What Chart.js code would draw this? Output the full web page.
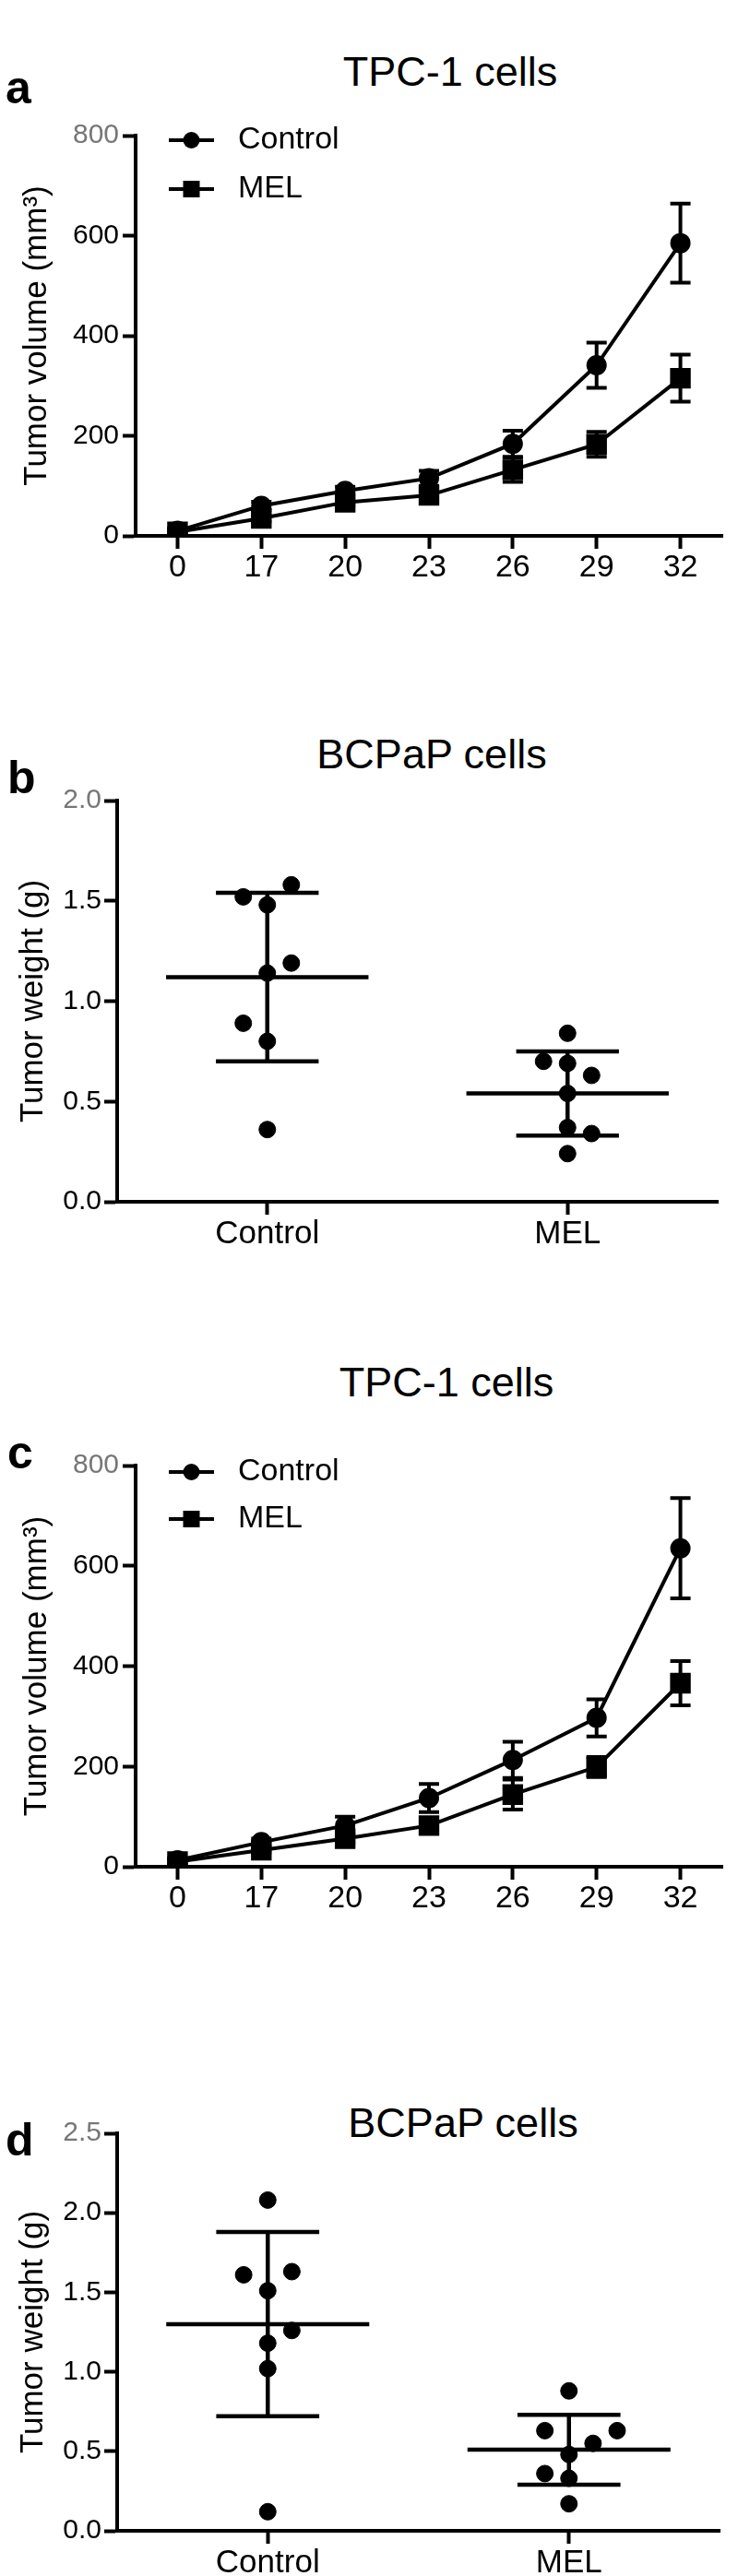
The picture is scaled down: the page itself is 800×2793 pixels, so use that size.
<!DOCTYPE html>
<html>
<head>
<meta charset="utf-8">
<script src="https://cdn.jsdelivr.net/npm/chart.js@4.4.0/dist/chart.umd.min.js"></script>
<style>
  body { margin: 0; background: #fff; }
  #page { position: relative; width: 800px; height: 2793px; overflow: hidden; font-family: 'Liberation Sans', Arial, Helvetica, sans-serif; color: #000; }
  .panel { position: absolute; left: 0; }
  .letter { position: absolute; font-weight: bold; font-size: 50px; line-height: 1; }
  .title { position: absolute; font-size: 45px; line-height: 1; white-space: nowrap; transform: translateX(-50%); }
</style>
</head>
<body>
<div id="page">
  <div class="letter" style="left:6px; top:70px;">a</div>
  <div class="title" style="left:488px; top:55px;">TPC-1 cells</div>
  <canvas class="panel" id="chartA" width="800" height="660" style="top:0px;"></canvas>

  <div class="letter" style="left:8px; top:818px;">b</div>
  <div class="title" style="left:468px; top:795px;">BCPaP cells</div>
  <canvas class="panel" id="chartB" width="800" height="720" style="top:660px;"></canvas>

  <div class="letter" style="left:8px; top:1550px;">c</div>
  <div class="title" style="left:484px; top:1476px;">TPC-1 cells</div>
  <canvas class="panel" id="chartC" width="800" height="660" style="top:1440px;"></canvas>

  <div class="letter" style="left:6px; top:2295px;">d</div>
  <div class="title" style="left:502px; top:2279px;">BCPaP cells</div>
  <canvas class="panel" id="chartD" width="800" height="673" style="top:2120px;"></canvas>
</div>

<script>
// --- data ---
const days = ['0', '17', '20', '23', '26', '29', '32'];
const volumeTicks = [0, 200, 400, 600, 800];

// panel a
const ctrlVolA = [10, 60, 90, 115, 184, 341, 585];
const ctrlErrA = [5, 8, 8, 15, 26, 45, 79];
const melVolA = [8, 35, 67, 81, 132, 183, 315];
const melErrA = [5, 6, 6, 12, 24, 25, 47];

// panel c
const ctrlVolC = [13, 49, 82, 137, 213, 297, 635];
const ctrlErrC = [5, 7, 18, 28, 36, 37, 100];
const melVolC = [10, 33, 56, 82, 144, 199, 366];
const melErrC = [5, 5, 8, 8, 30, 20, 44];

const groups = ['Control', 'MEL'];

// panel b
const ctrlWeightB = [1.58, 1.52, 1.48, 1.19, 1.14, 0.89, 0.80, 0.36];
const ctrlSlotB = [1, -1, 0, 1, 0, -1, 0, 0];
const melWeightB = [0.84, 0.70, 0.69, 0.63, 0.54, 0.37, 0.34, 0.24];
const melSlotB = [0, -1, 0, 1, 0, 0, 1, 0];
const meanB = [1.12, 0.54];
const sdB = [0.42, 0.21];
const weightTicksB = [0, 0.5, 1, 1.5, 2];

// panel d
const ctrlWeightD = [2.08, 1.63, 1.61, 1.51, 1.26, 1.18, 1.02, 0.12];
const ctrlSlotD = [0, 1, -1, 0, 1, 0, 0, 0];
const melWeightD = [0.88, 0.63, 0.63, 0.55, 0.48, 0.36, 0.33, 0.17];
const melSlotD = [0, -1, 2, 1, 0, -1, 0, 0];
const meanD = [1.30, 0.51];
const sdD = [0.58, 0.22];
const weightTicksD = [0, 0.5, 1, 1.5, 2, 2.5];

// --- styling ---
const FONT = "'Liberation Sans', Arial, Helvetica, sans-serif";
Chart.defaults.font.family = FONT;
Chart.defaults.color = '#000';

const JITTER = 0.08;

// draws mean +/- error bars on the line charts
const errorBarPlugin = {
    id: 'errorBars',
    afterDatasetsDraw(chart) {
        const ctx = chart.ctx;
        const yScale = chart.scales.y;
        chart.data.datasets.forEach((ds, i) => {
            if (!ds.errors) return;
            const meta = chart.getDatasetMeta(i);
            ctx.save();
            ctx.strokeStyle = '#000';
            ctx.lineWidth = 4;
            meta.data.forEach((pt, j) => {
                const top = yScale.getPixelForValue(ds.data[j] + ds.errors[j]);
                const bot = yScale.getPixelForValue(ds.data[j] - ds.errors[j]);
                ctx.beginPath();
                ctx.moveTo(pt.x, top); ctx.lineTo(pt.x, bot);
                ctx.moveTo(pt.x - 11, top); ctx.lineTo(pt.x + 11, top);
                ctx.moveTo(pt.x - 11, bot); ctx.lineTo(pt.x + 11, bot);
                ctx.stroke();
            });
            ctx.restore();
        });
    }
};

// legend sitting inside the plot area, top left
const insideLegendPlugin = {
    id: 'insideLegend',
    afterDraw(chart, args, opts) {
        if (!opts || !opts.rows) return;
        const ctx = chart.ctx;
        ctx.save();
        chart.data.datasets.forEach((ds, i) => {
            const y = opts.rows[i];
            const xm = (opts.x0 + opts.x1) / 2;
            ctx.strokeStyle = '#000';
            ctx.lineWidth = 4;
            ctx.beginPath();
            ctx.moveTo(opts.x0, y); ctx.lineTo(opts.x1, y);
            ctx.stroke();
            ctx.fillStyle = '#000';
            if (ds.pointStyle === 'rect') {
                ctx.fillRect(xm - 9, y - 9, 18, 18);
            } else {
                ctx.beginPath();
                ctx.arc(xm, y, 9, 0, Math.PI * 2);
                ctx.fill();
            }
            ctx.font = '34px ' + FONT;
            ctx.textBaseline = 'middle';
            ctx.textAlign = 'left';
            ctx.fillText(ds.label, opts.textX, y);
        });
        ctx.restore();
    }
};

// mean line with SD whiskers for the scatter panels
const meanSdPlugin = {
    id: 'meanSd',
    beforeDatasetsDraw(chart, args, opts) {
        if (!opts || !opts.mean) return;
        const ctx = chart.ctx;
        const xs = chart.scales.x, ys = chart.scales.y;
        ctx.save();
        ctx.strokeStyle = '#000';
        ctx.lineWidth = 4.5;
        opts.mean.forEach((m, i) => {
            const c = i + 1;
            const yMean = ys.getPixelForValue(m);
            const yTop = ys.getPixelForValue(m + opts.sd[i]);
            const yBot = ys.getPixelForValue(m - opts.sd[i]);
            const xc = xs.getPixelForValue(c);
            ctx.beginPath();
            ctx.moveTo(xs.getPixelForValue(c - 0.337), yMean);
            ctx.lineTo(xs.getPixelForValue(c + 0.337), yMean);
            ctx.moveTo(xc, yTop); ctx.lineTo(xc, yBot);
            ctx.moveTo(xs.getPixelForValue(c - 0.171), yTop);
            ctx.lineTo(xs.getPixelForValue(c + 0.171), yTop);
            ctx.moveTo(xs.getPixelForValue(c - 0.171), yBot);
            ctx.lineTo(xs.getPixelForValue(c + 0.171), yBot);
            ctx.stroke();
        });
        ctx.restore();
    }
};

function axisGrid() {
    return { drawOnChartArea: false, offset: false, drawTicks: true, tickLength: 14, tickWidth: 4, tickColor: '#000' };
}

function topGray(max) {
    return (c) => (c.tick && c.tick.value === max ? '#777' : '#000');
}

function volumeChart(id, ctrl, ctrlErr, mel, melErr, layout) {
    new Chart(document.getElementById(id), {
        type: 'line',
        data: {
            labels: days,
            datasets: [
                { label: 'Control', data: ctrl, errors: ctrlErr, pointStyle: 'circle', pointRadius: 9,
                  borderColor: '#000', backgroundColor: '#000', borderWidth: 4, tension: 0 },
                { label: 'MEL', data: mel, errors: melErr, pointStyle: 'rect', pointRadius: 13,
                  borderColor: '#000', backgroundColor: '#000', borderWidth: 4, tension: 0 }
            ]
        },
        options: {
            responsive: false,
            animation: false,
            layout: { padding: { top: layout.top, right: layout.right, bottom: 0, left: 0 } },
            plugins: {
                legend: { display: false },
                tooltip: { enabled: false },
                insideLegend: { x0: 183, x1: 232, textX: 258, rows: layout.legendRows }
            },
            scales: {
                x: {
                    type: 'category',
                    offset: true,
                    afterFit: (s) => { s.height = layout.xh; },
                    grid: axisGrid(),
                    border: { color: '#000', width: 4 },
                    ticks: { font: { size: 34 }, padding: 0, maxRotation: 0, color: '#000' }
                },
                y: {
                    min: 0, max: 800,
                    afterBuildTicks: (s) => { s.ticks = volumeTicks.map(v => ({ value: v })); },
                    afterFit: (s) => { s.width = layout.yw; },
                    grid: axisGrid(),
                    border: { color: '#000', width: 4 },
                    ticks: { font: { size: 30 }, padding: 4, color: topGray(800) },
                    title: { display: true, text: 'Tumor volume (mm³)', font: { size: 35 }, padding: { top: 19, bottom: 0 }, color: '#000' }
                }
            }
        },
        plugins: [errorBarPlugin, insideLegendPlugin]
    });
}

function weightChart(id, ctrl, ctrlSlot, mel, melSlot, mean, sd, ticks, layout) {
    const max = ticks[ticks.length - 1];
    new Chart(document.getElementById(id), {
        type: 'scatter',
        data: {
            datasets: [
                { label: 'Control', data: ctrl.map((v, i) => ({ x: 1 + ctrlSlot[i] * JITTER, y: v })),
                  pointRadius: 9, backgroundColor: '#000', borderColor: '#000' },
                { label: 'MEL', data: mel.map((v, i) => ({ x: 2 + melSlot[i] * JITTER, y: v })),
                  pointRadius: 9, backgroundColor: '#000', borderColor: '#000' }
            ]
        },
        options: {
            responsive: false,
            animation: false,
            layout: { padding: { top: layout.top, right: layout.right, bottom: 0, left: 0 } },
            plugins: {
                legend: { display: false },
                tooltip: { enabled: false },
                meanSd: { mean: mean, sd: sd }
            },
            scales: {
                x: {
                    type: 'linear',
                    min: 0.5, max: 2.5,
                    afterBuildTicks: (s) => { s.ticks = groups.map((g, i) => ({ value: i + 1 })); },
                    afterFit: (s) => { s.height = layout.xh; },
                    grid: axisGrid(),
                    border: { color: '#000', width: 4 },
                    ticks: { font: { size: 35 }, padding: 0, maxRotation: 0, color: '#000',
                             callback: (v, i) => groups[i] }
                },
                y: {
                    min: 0, max: max,
                    afterBuildTicks: (s) => { s.ticks = ticks.map(v => ({ value: v })); },
                    afterFit: (s) => { s.width = layout.yw; },
                    grid: axisGrid(),
                    border: { color: '#000', width: 4 },
                    ticks: { font: { size: 30 }, padding: 3, color: topGray(max), callback: (v) => Number(v).toFixed(1) },
                    title: { display: true, text: 'Tumor weight (g)', font: { size: 35 }, padding: { top: 15, bottom: 0 }, color: '#000' }
                }
            }
        },
        plugins: [meanSdPlugin]
    });
}

volumeChart('chartA', ctrlVolA, ctrlErrA, melVolA, melErrA,
    { top: 147, right: 0, xh: 79, yw: 147, legendRows: [152, 205] });
weightChart('chartB', ctrlWeightB, ctrlSlotB, melWeightB, melSlotB, meanB, sdB, weightTicksB,
    { top: 208, right: 22, xh: 77, yw: 127 });
volumeChart('chartC', ctrlVolC, ctrlErrC, melVolC, melErrC,
    { top: 149, right: 0, xh: 76, yw: 147, legendRows: [156, 207] });
weightChart('chartD', ctrlWeightD, ctrlSlotD, melWeightD, melSlotD, meanD, sdD, weightTicksD,
    { top: 193, right: 20, xh: 49, yw: 127 });
</script>
</body>
</html>
